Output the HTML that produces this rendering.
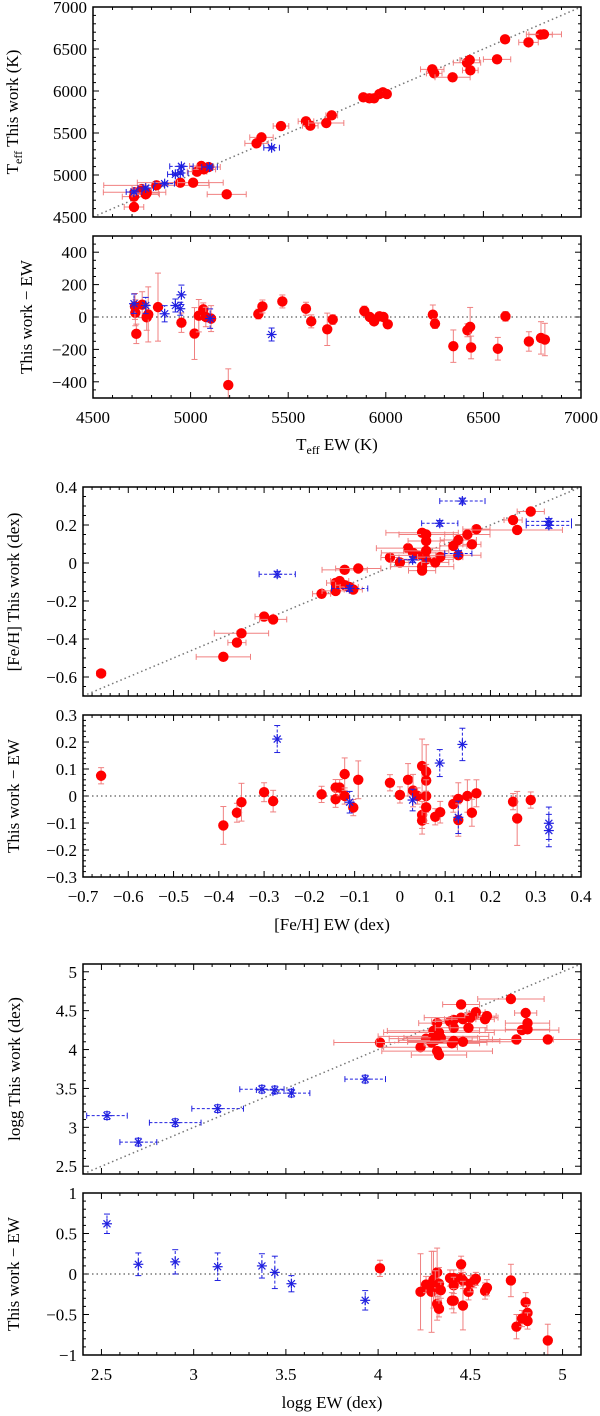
<!DOCTYPE html>
<html><head><meta charset="utf-8">
<style>
html,body{margin:0;padding:0;background:#fff;}
svg{display:block;font-family:"Liberation Serif",serif;}
</style></head>
<body>
<svg id="fig" width="600" height="1416" viewBox="0 0 600 1416" xmlns="http://www.w3.org/2000/svg"></svg>
<script>
// ---------- Teff data ----------
const teffRedX = [4710,4713,4750,4770,4775,4825,4947,5013,5033,5055,5068,5092,5185,4710,5338,5363,5463,5591,5613,5695,5723,5885,5916,5940,5967,5985,6005,6238,6248,6342,6416,6430,6433,6570,6611,6731,6793,6810];
const teffRedY = [4742,4794,4833,4770,4785,4877,4909,4909,5040,5107,5067,5095,4770,4619,5377,5448,5583,5639,5587,5619,5710,5925,5913,5913,5964,5984,5964,6258,6210,6163,6337,6369,6246,6377,6615,6579,6671,6675];
const teffRedXErr = [60,160,50,70,60,270,220,80,50,60,60,60,100,50,60,60,40,40,40,90,30,20,20,20,20,20,20,60,40,90,70,50,40,70,20,50,60,90];
const teffBlueX = [4710,4770,4867,4922,4947,4953,5097,5415];
const teffBlueY = [4798,4845,4897,5008,5024,5103,5095,5325];
const teffBlueXErr = [40,40,50,40,40,60,40,40];
const teffResRedX = [4717,4722,4715,4752,4775,4783,4833,4953,5020,5042,5065,5078,5105,5193,5347,5368,5470,5591,5618,5700,5728,5890,5918,5940,5967,5988,6010,6241,6252,6346,6418,6432,6437,6574,6613,6733,6795,6815];
const teffResRedY = [26,-104,65,76,-2,16,61,-35,-102,8,47,0,-10,-420,18,65,96,51,-27,-76,-16,37,0,-27,4,0,-45,14,-41,-180,-82,-61,-188,-196,4,-151,-129,-139];
const teffResRedErr = [80,60,80,80,80,170,210,60,160,100,40,60,80,100,30,40,40,40,40,100,30,30,20,20,20,20,20,60,30,100,40,120,70,70,30,60,100,100];
const teffResBlueX = [4710,4770,4867,4922,4947,4953,5100,5415];
const teffResBlueY = [82,71,20,71,51,137,-10,-108];
const teffResBlueErr = [60,50,50,40,40,60,60,40];
// ---------- [Fe/H] data ----------
const fehRedX = [-0.66,-0.39,-0.36,-0.35,-0.30,-0.28,-0.173,-0.142,-0.142,-0.133,-0.122,-0.122,-0.112,-0.103,-0.092,-0.022,0.0,0.018,0.029,0.039,0.049,0.049,0.049,0.058,0.058,0.058,0.058,0.078,0.089,0.118,0.129,0.129,0.149,0.159,0.169,0.25,0.259,0.289];
const fehRedY = [-0.581,-0.494,-0.419,-0.370,-0.282,-0.297,-0.162,-0.105,-0.147,-0.095,-0.036,-0.117,-0.126,-0.140,-0.029,0.029,0.003,0.078,0.053,0.040,0.159,-0.019,-0.040,0.150,0.116,0.064,0.019,0.003,0.031,0.090,0.121,0.041,0.150,0.098,0.178,0.226,0.174,0.271];
const fehRedXErr = [0.01,0.06,0.02,0.06,0.02,0.03,0.02,0.02,0.03,0.02,0.05,0.02,0.02,0.02,0.05,0.02,0.02,0.07,0.07,0.06,0.08,0.07,0.03,0.06,0.04,0.05,0.06,0.03,0.05,0.03,0.04,0.05,0.05,0.02,0.03,0.02,0.1,0.03];
const fehBlueX = [-0.271,-0.111,0.028,0.088,0.129,0.138,0.329,0.329];
const fehBlueY = [-0.059,-0.134,0.017,0.209,0.050,0.326,0.219,0.198];
const fehBlueXErr = [0.04,0.04,0.03,0.04,0.03,0.05,0.05,0.05];
const fehResRedX = [-0.66,-0.39,-0.36,-0.35,-0.30,-0.28,-0.173,-0.142,-0.142,-0.133,-0.122,-0.122,-0.103,-0.092,-0.022,0.0,0.018,0.029,0.039,0.049,0.049,0.049,0.058,0.058,0.058,0.058,0.078,0.089,0.118,0.129,0.129,0.149,0.159,0.169,0.25,0.259,0.289];
const fehResRedY = [0.075,-0.109,-0.062,-0.023,0.014,-0.019,0.006,0.031,-0.012,0.031,0.081,0.0,-0.043,0.060,0.049,0.004,0.060,0.020,0.0,0.111,-0.070,-0.091,0.090,0.057,0.0,-0.042,-0.077,-0.060,-0.030,-0.011,-0.089,0.0,-0.062,0.010,-0.021,-0.083,-0.015];
const fehResRedErr = [0.03,0.07,0.035,0.07,0.035,0.04,0.03,0.03,0.03,0.03,0.06,0.03,0.03,0.07,0.03,0.03,0.06,0.06,0.03,0.1,0.05,0.05,0.1,0.06,0.06,0.06,0.03,0.04,0.03,0.06,0.06,0.06,0.05,0.05,0.03,0.1,0.03];
const fehResBlueX = [-0.271,-0.111,0.028,0.088,0.129,0.138,0.329,0.329];
const fehResBlueY = [0.211,-0.023,-0.015,0.122,-0.079,0.191,-0.101,-0.128];
const fehResBlueErr = [0.05,0.04,0.04,0.05,0.06,0.06,0.06,0.06];
// ---------- logg data ----------
const loggRedX = [4.01,4.23,4.26,4.29,4.30,4.30,4.32,4.32,4.33,4.33,4.34,4.31,4.39,4.40,4.41,4.41,4.41,4.45,4.45,4.46,4.46,4.49,4.50,4.52,4.53,4.58,4.59,4.72,4.75,4.78,4.80,4.81,4.81,4.92];
const loggRedY = [4.09,4.03,4.14,4.09,4.24,4.17,4.34,3.98,3.93,4.22,4.15,4.12,4.36,4.08,4.38,4.28,4.11,4.58,4.41,4.39,4.10,4.28,4.41,4.44,4.48,4.39,4.43,4.65,4.13,4.25,4.47,4.34,4.26,4.13];
const loggRedXErr = [0.25,0.2,0.2,0.3,0.25,0.3,0.1,0.3,0.15,0.3,0.2,0.2,0.1,0.15,0.1,0.1,0.25,0.1,0.2,0.1,0.3,0.1,0.1,0.05,0.05,0.05,0.05,0.18,0.2,0.2,0.06,0.12,0.12,0.3];
const loggBlueX = [2.53,2.70,2.90,3.13,3.37,3.44,3.53,3.93];
const loggBlueY = [3.15,2.81,3.06,3.24,3.49,3.48,3.44,3.62];
const loggBlueXErr = [0.11,0.1,0.14,0.14,0.12,0.1,0.1,0.11];
const loggResRedX = [4.01,4.23,4.26,4.29,4.30,4.32,4.31,4.32,4.33,4.33,4.34,4.39,4.40,4.41,4.41,4.41,4.45,4.45,4.46,4.46,4.49,4.50,4.52,4.53,4.58,4.59,4.72,4.75,4.78,4.80,4.81,4.81,4.92];
const loggResRedY = [0.07,-0.22,-0.13,-0.22,-0.07,0.02,-0.16,-0.37,-0.43,-0.12,-0.20,-0.05,-0.33,-0.05,-0.14,-0.33,0.12,-0.05,-0.08,-0.39,-0.22,-0.12,-0.09,-0.06,-0.21,-0.17,-0.08,-0.65,-0.55,-0.35,-0.48,-0.58,-0.82];
const loggResRedErr = [0.1,0.47,0.1,0.5,0.35,0.3,0.2,0.2,0.1,0.2,0.1,0.1,0.1,0.1,0.1,0.15,0.1,0.1,0.1,0.3,0.1,0.1,0.08,0.08,0.1,0.1,0.2,0.15,0.1,0.12,0.1,0.1,0.2];
const loggResBlueX = [2.53,2.70,2.90,3.13,3.37,3.44,3.53,3.93];
const loggResBlueY = [0.62,0.12,0.15,0.09,0.10,0.02,-0.12,-0.325];
const loggResBlueErr = [0.12,0.14,0.15,0.17,0.15,0.2,0.1,0.12];

const NS = "http://www.w3.org/2000/svg";
const svg = document.getElementById('fig');
function mk(tag, attrs, parent){ const e=document.createElementNS(NS,tag); for(const k in attrs) e.setAttribute(k,attrs[k]); (parent||svg).appendChild(e); return e; }
function lin(d0,d1,r0,r1){ return v => r0 + (v-d0)/(d1-d0)*(r1-r0); }

const RED="#f00", REDL="#f08080", BLUE="#2020e0";
const FS=17;

function panel(name, box, xd, yd, xMaj, xMin, yMaj, yMin, fmtX, fmtY, showX){
  const g = mk('g',{});
  
  
  const sx = lin(xd[0],xd[1],box.l,box.r), sy = lin(yd[0],yd[1],box.b,box.t);
  const nMinX = Math.round((xd[1]-xd[0])/xMin);
  for(let i=0;i<=nMinX;i++){
    const v = xd[0]+i*xMin, x=sx(v);
    const isMaj = Math.abs(Math.round(v/xMaj)*xMaj - v) < xMin*0.01;
    const L = isMaj?6:3;
    mk('line',{x1:x,y1:box.b,x2:x,y2:box.b-L,stroke:'#000','stroke-width':1},g);
    mk('line',{x1:x,y1:box.t,x2:x,y2:box.t+L,stroke:'#000','stroke-width':1},g);
    if(isMaj && showX){
      const t=mk('text',{x:x,y:box.b+25,'font-size':FS,'text-anchor':'middle',fill:'#000'},g);
      t.textContent = fmtX(v);
      
      
    }
  }
  const nMinY = Math.round((yd[1]-yd[0])/yMin);
  for(let i=0;i<=nMinY;i++){
    const v = yd[0]+i*yMin, y=sy(v);
    const isMaj = Math.abs(Math.round(v/yMaj)*yMaj - v) < yMin*0.01;
    const L = isMaj?6:3;
    mk('line',{x1:box.l,y1:y,x2:box.l+L,y2:y,stroke:'#000','stroke-width':1},g);
    mk('line',{x1:box.r,y1:y,x2:box.r-L,y2:y,stroke:'#000','stroke-width':1},g);
    if(isMaj){
      const t=mk('text',{x:box.l-6,y:y+6,'font-size':FS,'text-anchor':'end',fill:'#000'},g);
      t.textContent = fmtY(v);
      
      
    }
  }
  return {g,sx,sy,box,xd,yd};
}
function frame(p){
  const r=mk('rect',{x:p.box.l,y:p.box.t,width:p.box.r-p.box.l,height:p.box.b-p.box.t,fill:'none',stroke:'#000','stroke-width':1.5},p.g);
  
  
}
function clipFor(p,id){
  const cp=mk('clipPath',{id:id});
  mk('rect',{x:p.box.l,y:p.box.t,width:p.box.r-p.box.l,height:p.box.b-p.box.t},cp);
  return 'url(#'+id+')';
}
function diag(p,clip){
  const l=mk('line',{x1:p.sx(p.xd[0]),y1:p.sy(p.xd[0]),x2:p.sx(p.xd[1]),y2:p.sy(p.xd[1]),stroke:'#777','stroke-width':1.5,'stroke-dasharray':'1.5,3','clip-path':clip},p.g);
  
  
}
function zero(p){
  const l=mk('line',{x1:p.box.l,y1:p.sy(0),x2:p.box.r,y2:p.sy(0),stroke:'#777','stroke-width':1.5,'stroke-dasharray':'1.5,3'},p.g);
  
  
}
function errBar(g,x1,y1,x2,y2,horiz,color,dash,clip){
  const a={x1:x1,y1:y1,x2:x2,y2:y2,stroke:color,'stroke-width':1,'clip-path':clip};
  if(dash) a['stroke-dasharray']='3,2';
  mk('line',a,g);
  const c=3;
  if(horiz){
    mk('line',{x1:x1,y1:y1-c,x2:x1,y2:y1+c,stroke:color,'stroke-width':1,'clip-path':clip},g);
    mk('line',{x1:x2,y1:y2-c,x2:x2,y2:y2+c,stroke:color,'stroke-width':1,'clip-path':clip},g);
  } else {
    mk('line',{x1:x1-c,y1:y1,x2:x1+c,y2:y1,stroke:color,'stroke-width':1,'clip-path':clip},g);
    mk('line',{x1:x2-c,y1:y2,x2:x2+c,y2:y2,stroke:color,'stroke-width':1,'clip-path':clip},g);
  }
}
function redPts(p,xs,ys,xe,ye,yeConst,clip){
  for(let i=0;i<xs.length;i++){
    const x=p.sx(xs[i]), y=p.sy(ys[i]);
    if(xe) errBar(p.g,p.sx(xs[i]-xe[i]),y,p.sx(xs[i]+xe[i]),y,true,REDL,false,clip);
    const e = ye?ye[i]:yeConst;
    if(e) errBar(p.g,x,p.sy(ys[i]-e),x,p.sy(ys[i]+e),false,REDL,false,clip);
    const c=mk('circle',{cx:x,cy:y,r:5.2,fill:RED,'clip-path':clip},p.g);
    
    
  }
}
function bluePts(p,xs,ys,xe,ye,yeConst,clip){
  for(let i=0;i<xs.length;i++){
    const x=p.sx(xs[i]), y=p.sy(ys[i]);
    if(xe) errBar(p.g,p.sx(xs[i]-xe[i]),y,p.sx(xs[i]+xe[i]),y,true,BLUE,true,clip);
    const e = ye?ye[i]:yeConst;
    if(e) errBar(p.g,x,p.sy(ys[i]-e),x,p.sy(ys[i]+e),false,BLUE,true,clip);
    const s=mk('g',{stroke:BLUE,'stroke-width':1.2},p.g);
    
    
    const r=5;
    mk('line',{x1:x-r,y1:y,x2:x+r,y2:y},s);
    mk('line',{x1:x,y1:y-r,x2:x,y2:y+r},s);
    mk('line',{x1:x-r*0.7,y1:y-r*0.7,x2:x+r*0.7,y2:y+r*0.7},s);
    mk('line',{x1:x-r*0.7,y1:y+r*0.7,x2:x+r*0.7,y2:y-r*0.7},s);
  }
}
function ytitle(x,y,html,name){
  const t=mk('text',{x:0,y:0,'font-size':FS,'text-anchor':'middle',transform:`translate(${x},${y}) rotate(-90)`,fill:'#000'});
  t.innerHTML=html;
  
  
}
function xtitle(x,y,html,name){
  const t=mk('text',{x:x,y:y,'font-size':FS,'text-anchor':'middle',fill:'#000'});
  t.innerHTML=html;
  
  
}
const fInt=v=>String(Math.round(v)).replace('-','\u2212');
const f1=v=>{const r=Math.round(v*10)/10; return r===0?'0':r.toFixed(1).replace('-','\u2212');};
const fG=v=>{const r=Math.round(v*10)/10; return (Number.isInteger(r)?String(r):r.toFixed(1)).replace('-','\u2212');};

// Panel 1
let p=panel('teff-comparison-panel',{l:93,r:581,t:7,b:217},[4500,7000],[4500,7000],500,100,500,100,fInt,fInt,false);
let cl=clipFor(p,'c1'); diag(p,cl);
redPts(p,teffRedX,teffRedY,teffRedXErr,null,15,cl);
bluePts(p,teffBlueX,teffBlueY,teffBlueXErr,null,15,cl);
frame(p);
ytitle(18,112,'T<tspan font-size="12" dy="4">eff</tspan><tspan dy="-4"> This work (K)</tspan>','teff-y-axis-title');
// Panel 2
p=panel('teff-residual-panel',{l:93,r:581,t:236,b:398},[4500,7000],[-500,500],500,100,200,50,fInt,fInt,true);
cl=clipFor(p,'c2'); zero(p);
redPts(p,teffResRedX,teffResRedY,null,teffResRedErr,0,cl);
bluePts(p,teffResBlueX,teffResBlueY,null,teffResBlueErr,0,cl);
frame(p);
ytitle(32,317,'This work \u2212 EW','teff-residual-y-axis-title');
xtitle(337,450,'T<tspan font-size="12" dy="4">eff</tspan><tspan dy="-4"> EW (K)</tspan>','teff-x-axis-title');

// Panel 3
p=panel('feh-comparison-panel',{l:83,r:581,t:487,b:696},[-0.7,0.4],[-0.7,0.4],0.1,0.02,0.2,0.05,f1,f1,false);
cl=clipFor(p,'c3'); diag(p,cl);
redPts(p,fehRedX,fehRedY,fehRedXErr,null,0.015,cl);
bluePts(p,fehBlueX,fehBlueY,fehBlueXErr,null,0.015,cl);
frame(p);
ytitle(19,592,'[Fe/H] This work (dex)','feh-y-axis-title');
// Panel 4
p=panel('feh-residual-panel',{l:83,r:581,t:715,b:877},[-0.7,0.4],[-0.3,0.3],0.1,0.02,0.1,0.02,f1,f1,true);
cl=clipFor(p,'c4'); zero(p);
redPts(p,fehResRedX,fehResRedY,null,fehResRedErr,0,cl);
bluePts(p,fehResBlueX,fehResBlueY,null,fehResBlueErr,0,cl);
frame(p);
ytitle(19,796,'This work \u2212 EW','feh-residual-y-axis-title');
xtitle(332,930,'[Fe/H] EW (dex)','feh-x-axis-title');

// Panel 5
p=panel('logg-comparison-panel',{l:83,r:581,t:964,b:1174},[2.4,5.1],[2.4,5.1],0.5,0.1,0.5,0.1,fG,fG,false);
cl=clipFor(p,'c5'); diag(p,cl);
redPts(p,loggRedX,loggRedY,loggRedXErr,null,0.04,cl);
bluePts(p,loggBlueX,loggBlueY,loggBlueXErr,null,0.05,cl);
frame(p);
ytitle(20,1069,'logg This work (dex)','logg-y-axis-title');
// Panel 6
p=panel('logg-residual-panel',{l:83,r:581,t:1193,b:1355},[2.4,5.1],[-1,1],0.5,0.1,0.5,0.1,fG,fG,true);
cl=clipFor(p,'c6'); zero(p);
redPts(p,loggResRedX,loggResRedY,null,loggResRedErr,0,cl);
bluePts(p,loggResBlueX,loggResBlueY,null,loggResBlueErr,0,cl);
frame(p);
ytitle(19,1274,'This work \u2212 EW','logg-residual-y-axis-title');
xtitle(332,1408,'logg EW (dex)','logg-x-axis-title');
</script>
</body></html>
